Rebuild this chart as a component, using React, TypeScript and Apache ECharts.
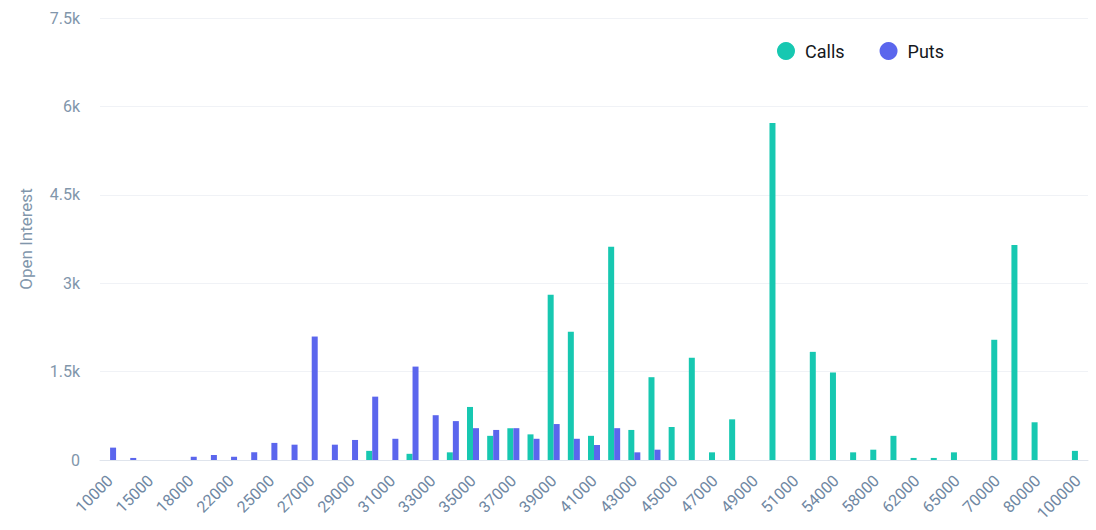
import React, { useEffect, useRef } from "react";
import * as echarts from "echarts";

const strikes = [
  "10000", "12000", "15000", "16000", "18000", "20000", "22000", "24000", "25000", "26000",
  "27000", "28000", "29000", "30000", "31000", "32000", "33000", "34000", "35000", "36000",
  "37000", "38000", "39000", "40000", "41000", "42000", "43000", "44000", "45000", "46000",
  "47000", "48000", "49000", "50000", "51000", "52000", "54000", "56000", "58000", "60000",
  "62000", "64000", "65000", "68000", "70000", "75000", "80000", "90000", "100000",
];

const calls = [
  0, 0, 0, 0, 0, 0, 0, 0, 0, 0,
  0, 0, 0, 155, 0, 105, 0, 130, 900, 410,
  540, 435, 2805, 2175, 410, 3620, 510, 1405, 560, 1735,
  130, 690, 0, 5720, 0, 1835, 1485, 130, 175, 410,
  35, 35, 130, 0, 2040, 3650, 640, 0, 155,
];

const puts = [
  210, 35, 0, 0, 55, 85, 55, 130, 290, 260,
  2095, 260, 340, 1075, 360, 1585, 760, 660, 540, 510,
  540, 360, 610, 360, 255, 540, 130, 175, 0, 0,
  0, 0, 0, 0, 0, 0, 0, 0, 0, 0,
  0, 0, 0, 0, 0, 0, 0, 0, 0,
];

const yTicks = { min: 0, max: 7500, interval: 1500 };

export default function App() {
  const ref = useRef<HTMLDivElement>(null);

  useEffect(() => {
    document.body.style.margin = "0";
    if (!ref.current) return;
    const chart = echarts.init(ref.current, null, { renderer: "svg" });
    const font = "Roboto, 'Noto Sans', sans-serif";
    chart.setOption({
      animation: false,
      textStyle: { fontFamily: font },
      legend: {
        data: ["Calls", "Puts"],
        icon: "circle",
        right: 147,
        top: 37,
        itemWidth: 28,
        itemHeight: 18,
        itemGap: 35,
        textStyle: { fontSize: 18, color: "#15181c", fontFamily: font },
      },
      grid: { left: 100, right: 8, top: 18, bottom: 70 },
      xAxis: {
        type: "category",
        data: strikes,
        axisLine: { lineStyle: { color: "#dfe4ec" } },
        axisTick: { show: false },
        axisLabel: {
          interval: 1,
          rotate: 45,
          fontSize: 16,
          color: "#7088a3",
          margin: 18,
          fontFamily: font,
        },
      },
      yAxis: {
        type: "value",
        min: yTicks.min,
        max: yTicks.max,
        interval: yTicks.interval,
        name: "Open Interest",
        nameLocation: "middle",
        nameGap: 66,
        nameTextStyle: { fontSize: 17, color: "#8196ab", fontFamily: font },
        axisLine: { show: false },
        axisTick: { show: false },
        splitLine: { lineStyle: { color: "#f0f2f6" } },
        axisLabel: {
          fontSize: 16,
          color: "#8196ab",
          margin: 20,
          fontFamily: font,
          formatter: (v: number) => (v === 0 ? "0" : v / 1000 + "k"),
        },
      },
      series: [
        {
          name: "Calls",
          type: "bar",
          data: calls,
          barWidth: 6,
          barGap: "0%",
          itemStyle: { color: "#17c8b1" },
        },
        {
          name: "Puts",
          type: "bar",
          data: puts,
          barWidth: 6,
          barGap: "0%",
          itemStyle: { color: "#5b66ed" },
        },
      ],
    });
    return () => chart.dispose();
  }, []);

  return <div ref={ref} style={{ width: 1096, height: 530 }} />;
}
